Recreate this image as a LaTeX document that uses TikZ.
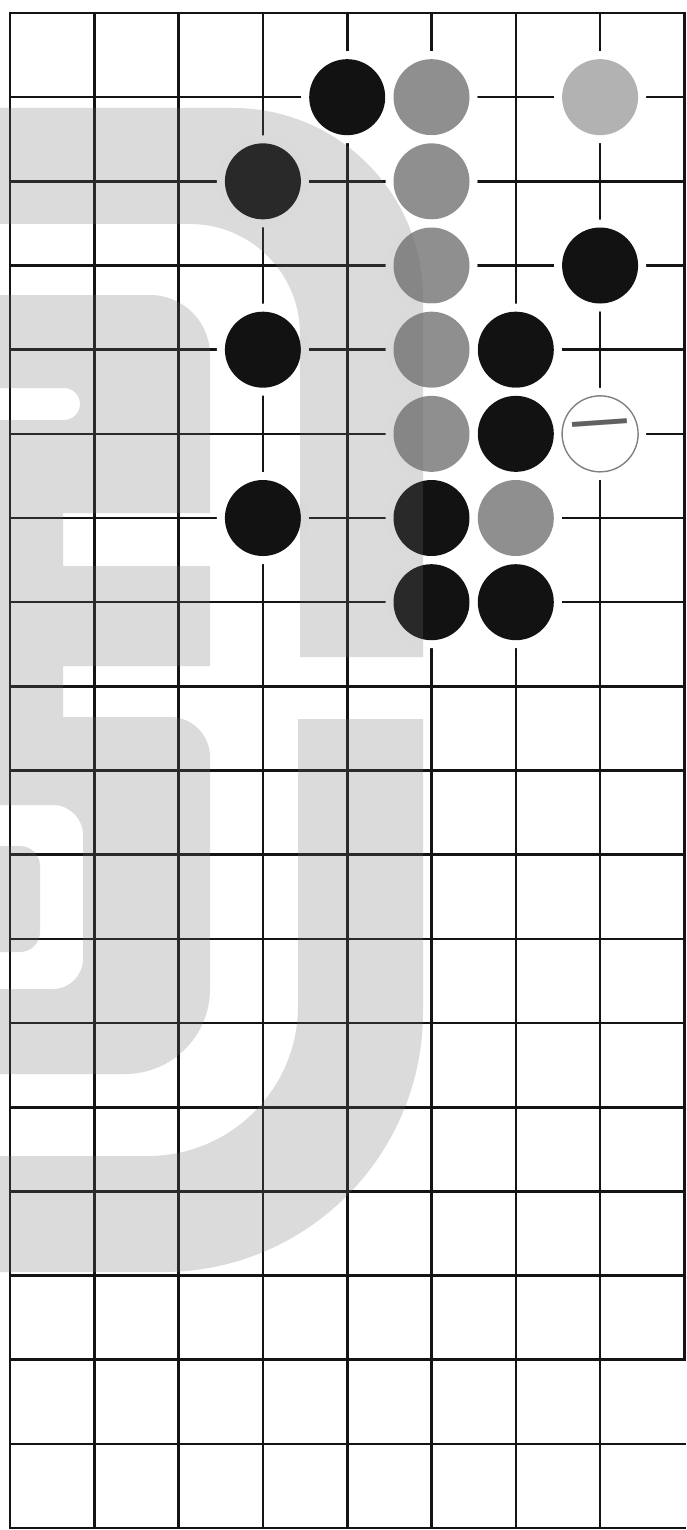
\documentclass[tikz,border=0pt]{standalone}
\usepackage{fontspec}
\usepackage{xcolor}
\usepackage{tikz}
\newfontfamily\cjk{Noto Sans CJK SC}

\tikzset{
  gridline/.style={black!92, line width=1.3pt, line cap=rect},
  halo/.style={preaction={draw=white, line width=8pt}},
  blackstone/.style={halo, fill=black!93},
  graystone/.style={halo, fill=black!44},
  palestone/.style={halo, fill=black!30},
  whitestone/.style={halo, circle, fill=white, draw=black!50, line width=0.7pt,
    minimum size=38pt, inner sep=0pt, text=black!62, font=\cjk\fontsize{30}{30}\selectfont},
  watermark/.style={fill=black!57, opacity=0.25}
}

\begin{document}
\begin{tikzpicture}[x=0.5pt, y=-0.5pt]
  \useasboundingbox (0,0) rectangle (686,1530);

  \foreach \i in {0,...,7}
    \draw[gridline] ({10+84.3*\i},13) -- ({10+84.3*\i},1528);
  \draw[gridline] (684.4,13) -- (684.4,1360);
  \foreach \j in {0,...,18}
    \draw[gridline] (10,{13+84.17*\j}) -- (684.4,{13+84.17*\j});

  \foreach \i/\j in {4/1,3/2,7/3,3/4,6/4,6/5,3/6,5/6,5/7,6/7}
    \fill[blackstone] ({10+84.3*\i},{13+84.17*\j}) circle (38);
  \foreach \i/\j in {5/1,5/2,5/3,5/4,5/5,6/6}
    \fill[graystone] ({10+84.3*\i},{13+84.17*\j}) circle (38);
  \fill[palestone] ({10+84.3*7},{13+84.17*1}) circle (38);
  \node[whitestone, rotate=4] (one) at ({10+84.3*7},{13+84.17*5}) {一};

  \fill[watermark] (0,108) -- (233,108) arc[start angle=-90, end angle=0, radius=190]
    -- (423,657) -- (300,657) -- (300,334) arc[start angle=0, end angle=-90, radius=110]
    -- (0,224) -- cycle;
  \fill[watermark] (0,295) -- (150,295) arc[start angle=-90, end angle=0, radius=60]
    -- (210,513) -- (63,513) -- (63,566) -- (210,566) -- (210,666) -- (63,666) -- (63,717)
    -- (170,717) arc[start angle=-90, end angle=0, radius=40]
    -- (210,989) arc[start angle=0, end angle=90, radius=85]
    -- (0,1074) -- (0,989) -- (53,989) arc[start angle=90, end angle=0, radius=30]
    -- (83,835) arc[start angle=0, end angle=-90, radius=30]
    -- (0,805) -- (0,420) -- (64,420) arc[start angle=90, end angle=-90, radius=16]
    -- (0,388) -- cycle;
  \fill[watermark] (0,846) -- (20,846) arc[start angle=-90, end angle=0, radius=20]
    -- (40,932) arc[start angle=0, end angle=90, radius=20] -- (0,952) -- cycle;
  \fill[watermark] (298,719) -- (423,719) -- (423,1012) arc[start angle=0, end angle=90, radius=260]
    -- (0,1272) -- (0,1156) -- (148,1156) arc[start angle=90, end angle=0, radius=150]
    -- cycle;
\end{tikzpicture}
\end{document}
